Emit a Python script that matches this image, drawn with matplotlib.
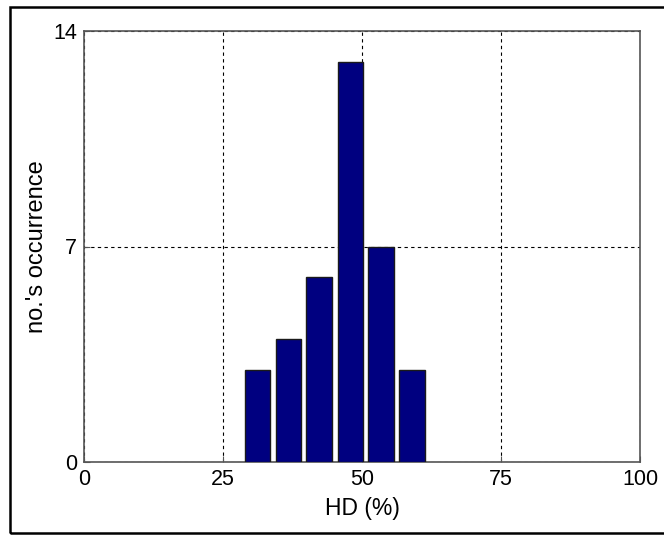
import matplotlib.pyplot as plt
from matplotlib.patches import Rectangle

# data
bin_centers = [31.2, 36.8, 42.3, 47.9, 53.4, 59.0]
counts = [3, 4, 6, 13, 7, 3]
x_ticks = [0, 25, 50, 75, 100]
y_ticks = [0, 7, 14]

plt.rcParams['font.family'] = ['Liberation Sans', 'DejaVu Sans']

fig = plt.figure(figsize=(6.64, 5.36), dpi=100)
ax = fig.add_axes([84 / 664, 74 / 536, 556 / 664, 431 / 536])

ax.bar(bin_centers, counts, width=4.6, color='#000080', edgecolor='#1a1a1a', linewidth=1, zorder=3)

ax.set_xlim(0, 100)
ax.set_ylim(0, 14)
ax.set_xticks(x_ticks)
ax.set_yticks(y_ticks)
ax.grid(True, color='black', linestyle=(0, (3, 3)), linewidth=0.8, zorder=0)
ax.tick_params(direction='in', length=4, labelsize=15.5, color='#555555')
ax.tick_params(axis='x', pad=5)
ax.tick_params(axis='y', pad=5)
for s in ax.spines.values():
    s.set_color('#555555')
    s.set_linewidth(1.2)

ax.set_xlabel('HD (%)', fontsize=16.5, labelpad=5)
ax.set_ylabel("no.'s occurrence", fontsize=17, labelpad=4)

# frame around the figure
fig.patches.append(Rectangle((10 / 664, 3 / 536), 1.0, 526 / 536, transform=fig.transFigure,
                             fill=False, edgecolor='black', linewidth=1.8))

fig.savefig('out.png', dpi=100)
